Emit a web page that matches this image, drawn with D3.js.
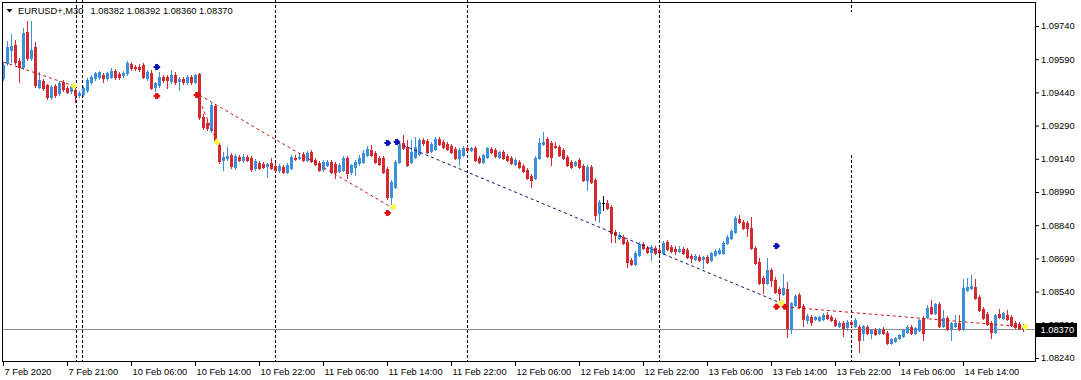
<!DOCTYPE html>
<html><head><meta charset="utf-8">
<script src="https://cdn.jsdelivr.net/npm/d3@7"></script>
<style>
html,body{margin:0;padding:0;background:#fff;}
svg{display:block;font-family:"Liberation Sans",Arial,sans-serif;}
</style></head><body>
<svg id="c" width="1081" height="380"></svg>
<script>
const symbol = "EURUSD+,M30";
const headerValues = ["1.08382", "1.08392", "1.08360", "1.08370"];

const openP = [
1.09505,1.09573,1.09632,1.09654,1.09582,1.09555,1.09713,1.09595,1.09645,1.09464,
1.09492,1.09474,1.09419,1.09469,1.09437,1.09487,1.09460,1.09446,1.09451,1.09428,
1.09433,1.09451,1.09487,1.09505,1.09510,1.09519,1.09505,1.09510,1.09537,1.09523,
1.09519,1.09528,1.09568,1.09555,1.09555,1.09564,1.09505,1.09528,1.09464,1.09474,
1.09510,1.09510,1.09492,1.09519,1.09492,1.09501,1.09487,1.09510,1.09487,1.09523,
1.09329,1.09302,1.09270,1.09379,1.09202,1.09135,1.09144,1.09157,1.09103,1.09148,
1.09135,1.09148,1.09144,1.09099,1.09121,1.09117,1.09108,1.09121,1.09108,1.09089,
1.09103,1.09080,1.09099,1.09144,1.09144,1.09162,1.09135,1.09171,1.09135,1.09121,
1.09094,1.09112,1.09126,1.09117,1.09085,1.09089,1.09144,1.09080,1.09103,1.09121,
1.09126,1.09157,1.09180,1.09166,1.09144,1.09144,1.09094,1.08968,1.09013,1.09126,
1.09211,1.09193,1.09126,1.09148,1.09162,1.09225,1.09221,1.09175,1.09184,1.09230,
1.09216,1.09207,1.09198,1.09184,1.09144,1.09157,1.09189,1.09180,1.09189,1.09144,
1.09126,1.09148,1.09184,1.09180,1.09148,1.09171,1.09153,1.09144,1.09117,1.09126,
1.09108,1.09089,1.09062,1.09053,1.09144,1.09207,1.09230,1.09211,1.09198,1.09193,
1.09180,1.09148,1.09126,1.09112,1.09135,1.09108,1.09044,1.09103,1.09044,1.08895,
1.08940,1.08940,1.08922,1.08809,1.08782,1.08787,1.08764,1.08683,1.08665,1.08705,
1.08755,1.08737,1.08719,1.08737,1.08728,1.08715,1.08764,1.08742,1.08733,1.08724,
1.08733,1.08728,1.08701,1.08687,1.08696,1.08687,1.08696,1.08683,1.08705,1.08715,
1.08715,1.08760,1.08782,1.08809,1.08868,1.08855,1.08850,1.08827,1.08737,1.08674,
1.08602,1.08579,1.08638,1.08593,1.08552,1.08529,1.08552,1.08371,1.08480,1.08525,
1.08475,1.08412,1.08425,1.08416,1.08412,1.08416,1.08434,1.08425,1.08412,1.08385,
1.08398,1.08380,1.08403,1.08385,1.08380,1.08353,1.08380,1.08353,1.08367,1.08353,
1.08371,1.08353,1.08308,1.08317,1.08330,1.08340,1.08358,1.08380,1.08353,1.08367,
1.08421,1.08425,1.08471,1.08443,1.08484,1.08385,1.08421,1.08371,1.08385,1.08398,
1.08371,1.08547,1.08556,1.08561,1.08516,1.08462,1.08439,1.08398,1.08358,1.08439,
1.08421,1.08434,1.08425,1.08398,1.08394,1.08382];

const highP = [
1.09577,1.09672,1.09704,1.09677,1.09595,1.09731,1.09763,1.09763,1.09668,1.09532,
1.09501,1.09478,1.09474,1.09478,1.09492,1.09496,1.09469,1.09478,1.09460,1.09446,
1.09469,1.09505,1.09519,1.09532,1.09537,1.09528,1.09532,1.09550,1.09546,1.09532,
1.09537,1.09582,1.09577,1.09564,1.09568,1.09573,1.09541,1.09541,1.09487,1.09532,
1.09519,1.09519,1.09541,1.09532,1.09510,1.09510,1.09519,1.09519,1.09523,1.09528,
1.09342,1.09315,1.09392,1.09388,1.09211,1.09171,1.09193,1.09166,1.09162,1.09157,
1.09162,1.09157,1.09153,1.09139,1.09130,1.09126,1.09121,1.09144,1.09121,1.09117,
1.09112,1.09121,1.09157,1.09157,1.09162,1.09171,1.09175,1.09180,1.09144,1.09130,
1.09135,1.09135,1.09135,1.09126,1.09121,1.09153,1.09153,1.09117,1.09135,1.09157,
1.09180,1.09198,1.09202,1.09175,1.09153,1.09153,1.09103,1.09044,1.09135,1.09211,
1.09248,1.09225,1.09225,1.09239,1.09234,1.09234,1.09230,1.09216,1.09239,1.09239,
1.09225,1.09216,1.09207,1.09193,1.09189,1.09198,1.09198,1.09193,1.09198,1.09153,
1.09162,1.09193,1.09193,1.09189,1.09175,1.09180,1.09162,1.09153,1.09144,1.09135,
1.09117,1.09099,1.09071,1.09153,1.09234,1.09261,1.09239,1.09221,1.09216,1.09202,
1.09189,1.09157,1.09135,1.09130,1.09144,1.09117,1.09112,1.09112,1.09053,1.08954,
1.08972,1.08954,1.08931,1.08818,1.08809,1.08796,1.08773,1.08692,1.08724,1.08764,
1.08764,1.08746,1.08751,1.08746,1.08742,1.08769,1.08773,1.08751,1.08746,1.08746,
1.08742,1.08737,1.08710,1.08710,1.08705,1.08701,1.08705,1.08719,1.08733,1.08737,
1.08769,1.08796,1.08823,1.08882,1.08886,1.08864,1.08859,1.08877,1.08746,1.08692,
1.08611,1.08692,1.08647,1.08606,1.08561,1.08620,1.08583,1.08493,1.08529,1.08534,
1.08484,1.08439,1.08434,1.08430,1.08430,1.08443,1.08448,1.08434,1.08421,1.08407,
1.08407,1.08412,1.08412,1.08421,1.08389,1.08389,1.08389,1.08371,1.08376,1.08376,
1.08380,1.08362,1.08330,1.08335,1.08349,1.08371,1.08389,1.08389,1.08380,1.08416,
1.08430,1.08480,1.08502,1.08489,1.08493,1.08457,1.08430,1.08403,1.08434,1.08434,
1.08597,1.08602,1.08615,1.08597,1.08525,1.08471,1.08448,1.08407,1.08439,1.08462,
1.08448,1.08457,1.08434,1.08407,1.08403,1.08392];

const lowP = [
1.09496,1.09564,1.09577,1.09568,1.09487,1.09546,1.09586,1.09586,1.09464,1.09460,
1.09451,1.09410,1.09410,1.09419,1.09428,1.09446,1.09437,1.09437,1.09397,1.09419,
1.09424,1.09442,1.09478,1.09496,1.09501,1.09487,1.09496,1.09505,1.09501,1.09501,
1.09510,1.09519,1.09541,1.09541,1.09537,1.09505,1.09496,1.09455,1.09446,1.09464,
1.09487,1.09460,1.09483,1.09478,1.09451,1.09478,1.09478,1.09478,1.09483,1.09320,
1.09275,1.09270,1.09261,1.09211,1.09121,1.09089,1.09135,1.09099,1.09094,1.09130,
1.09126,1.09130,1.09085,1.09089,1.09094,1.09099,1.09058,1.09094,1.09085,1.09080,
1.09076,1.09076,1.09094,1.09135,1.09139,1.09130,1.09130,1.09126,1.09112,1.09085,
1.09085,1.09108,1.09076,1.09053,1.09080,1.09085,1.09053,1.09071,1.09067,1.09112,
1.09121,1.09153,1.09153,1.09121,1.09112,1.09076,1.08958,1.08922,1.09008,1.09121,
1.09184,1.09108,1.09121,1.09144,1.09157,1.09202,1.09166,1.09171,1.09180,1.09202,
1.09189,1.09180,1.09166,1.09139,1.09112,1.09153,1.09175,1.09175,1.09130,1.09121,
1.09121,1.09144,1.09166,1.09148,1.09144,1.09139,1.09130,1.09117,1.09112,1.09099,
1.09080,1.09049,1.09013,1.09049,1.09139,1.09202,1.09148,1.09112,1.09189,1.09153,
1.09139,1.09108,1.09099,1.09108,1.09099,1.09040,1.08999,1.09031,1.08864,1.08855,
1.08909,1.08913,1.08764,1.08764,1.08778,1.08755,1.08651,1.08660,1.08660,1.08701,
1.08733,1.08715,1.08683,1.08710,1.08710,1.08710,1.08728,1.08719,1.08710,1.08719,
1.08710,1.08692,1.08674,1.08683,1.08678,1.08647,1.08669,1.08678,1.08701,1.08710,
1.08710,1.08755,1.08778,1.08805,1.08850,1.08823,1.08791,1.08733,1.08665,1.08574,
1.08534,1.08574,1.08565,1.08534,1.08502,1.08525,1.08335,1.08353,1.08475,1.08466,
1.08385,1.08398,1.08389,1.08412,1.08407,1.08412,1.08416,1.08407,1.08385,1.08380,
1.08340,1.08367,1.08385,1.08380,1.08267,1.08321,1.08349,1.08330,1.08344,1.08349,
1.08349,1.08303,1.08303,1.08312,1.08326,1.08335,1.08353,1.08349,1.08349,1.08362,
1.08321,1.08421,1.08439,1.08439,1.08380,1.08380,1.08367,1.08321,1.08380,1.08367,
1.08367,1.08543,1.08552,1.08507,1.08452,1.08416,1.08389,1.08330,1.08353,1.08421,
1.08416,1.08412,1.08385,1.08376,1.08371,1.08360];

const closeP = [
1.09564,1.09645,1.09650,1.09577,1.09555,1.09708,1.09595,1.09632,1.09474,1.09496,
1.09460,1.09419,1.09464,1.09428,1.09483,1.09455,1.09442,1.09469,1.09428,1.09437,
1.09460,1.09496,1.09510,1.09528,1.09532,1.09505,1.09528,1.09537,1.09510,1.09510,
1.09528,1.09573,1.09550,1.09550,1.09546,1.09510,1.09532,1.09460,1.09483,1.09510,
1.09496,1.09496,1.09519,1.09487,1.09501,1.09487,1.09510,1.09487,1.09519,1.09329,
1.09284,1.09279,1.09383,1.09221,1.09130,1.09148,1.09153,1.09108,1.09153,1.09135,
1.09148,1.09135,1.09094,1.09130,1.09099,1.09103,1.09117,1.09099,1.09089,1.09108,
1.09080,1.09112,1.09148,1.09139,1.09148,1.09135,1.09166,1.09130,1.09117,1.09089,
1.09126,1.09126,1.09080,1.09080,1.09112,1.09144,1.09076,1.09112,1.09126,1.09144,
1.09166,1.09184,1.09157,1.09126,1.09117,1.09080,1.08968,1.09035,1.09126,1.09202,
1.09189,1.09112,1.09171,1.09193,1.09225,1.09211,1.09171,1.09207,1.09230,1.09207,
1.09193,1.09184,1.09171,1.09144,1.09180,1.09189,1.09180,1.09189,1.09135,1.09126,
1.09157,1.09189,1.09171,1.09153,1.09171,1.09144,1.09135,1.09121,1.09135,1.09103,
1.09085,1.09053,1.09044,1.09144,1.09211,1.09216,1.09153,1.09148,1.09193,1.09157,
1.09144,1.09112,1.09103,1.09126,1.09103,1.09044,1.09103,1.09035,1.08886,1.08945,
1.08940,1.08918,1.08805,1.08796,1.08796,1.08760,1.08674,1.08665,1.08715,1.08755,
1.08737,1.08719,1.08742,1.08715,1.08719,1.08760,1.08733,1.08724,1.08724,1.08733,
1.08715,1.08696,1.08692,1.08701,1.08683,1.08696,1.08674,1.08715,1.08724,1.08728,
1.08760,1.08787,1.08814,1.08873,1.08855,1.08827,1.08827,1.08737,1.08669,1.08579,
1.08579,1.08638,1.08593,1.08538,1.08534,1.08556,1.08376,1.08489,1.08520,1.08471,
1.08416,1.08430,1.08403,1.08425,1.08425,1.08434,1.08421,1.08412,1.08389,1.08398,
1.08376,1.08403,1.08394,1.08412,1.08321,1.08385,1.08353,1.08367,1.08349,1.08371,
1.08353,1.08308,1.08326,1.08330,1.08344,1.08367,1.08380,1.08353,1.08376,1.08412,
1.08353,1.08466,1.08443,1.08484,1.08385,1.08421,1.08371,1.08398,1.08398,1.08371,
1.08556,1.08561,1.08565,1.08511,1.08457,1.08421,1.08394,1.08358,1.08434,1.08425,
1.08443,1.08416,1.08389,1.08380,1.08376,1.08370];

const timeLabels = ["7 Feb 2020","7 Feb 21:00","10 Feb 06:00","10 Feb 14:00","10 Feb 22:00","11 Feb 06:00","11 Feb 14:00","11 Feb 22:00","12 Feb 06:00","12 Feb 14:00","12 Feb 22:00","13 Feb 06:00","13 Feb 14:00","13 Feb 22:00","14 Feb 06:00","14 Feb 14:00"];
const timeLabelBars = [0,16,32,48,64,80,96,112,128,144,160,176,192,208,224,240];
const priceTicks = [1.09740,1.09590,1.09440,1.09290,1.09140,1.08990,1.08840,1.08690,1.08540,1.08390,1.08240];
const currentPrice = 1.08370;

const separatorBars = [18.25, 20, 68, 116, 164, 212];
const brokenSeparatorBar = 212;
const brokenSeparatorGap = [1.09803, 1.09157];

const buyArrowBars = [38.4, 96.1, 98.4, 193.3];
const buyArrowPrices = [1.09555, 1.09211, 1.09216, 1.08746];
const sellArrowBars = [38.4, 48.4, 96.1, 193.3, 195.4];
const sellArrowPrices = [1.09424, 1.09428, 1.08895, 1.08471, 1.08471];
const pivotBars = [17.6, 53.4, 97.4, 194.5, 255.4];
const pivotPrices = [1.09469, 1.09216, 1.08922, 1.08489, 1.08380];

const redTrendLines = [
  [0, 1.09577, 17.6, 1.09469],
  [48.4, 1.09428, 53.4, 1.09216],
  [49, 1.09428, 96.9, 1.08922],
  [195.4, 1.08471, 255.4, 1.08380]
];
const navyTrendLines = [
  [98.6, 1.09211, 193.7, 1.08493]
];

(function () {
const pLeft = 2.5, pRight = 1035.5, pTop = 2.5, pBottom = 361.5;
const svg = d3.select("#c");
const x = d3.scaleLinear().domain([0, 255]).range([3.5, 1023.5]);
const y = d3.scaleLinear().domain([1.08240, 1.09740]).range([358, 26]);
const BULL = "#3b8fdb", BEAR = "#d42a2f";

// price line
const cpY = Math.round(y(currentPrice));
svg.append("line").attr("x1", pLeft).attr("x2", pRight)
  .attr("y1", cpY + 0.5).attr("y2", cpY + 0.5)
  .attr("stroke", "#8c8c8c").attr("stroke-width", 1);

// separators
const sepG = svg.append("g").attr("stroke", "#000").attr("stroke-width", 1).attr("stroke-dasharray", "3,2");
separatorBars.forEach(b => {
  const xx = Math.round(x(b)) - 0.5;
  if (b === brokenSeparatorBar) {
    sepG.append("line").attr("x1", xx).attr("x2", xx).attr("y1", 0).attr("y2", y(brokenSeparatorGap[0]));
    sepG.append("line").attr("x1", xx).attr("x2", xx).attr("y1", y(brokenSeparatorGap[1])).attr("y2", pBottom);
  } else {
    sepG.append("line").attr("x1", xx).attr("x2", xx).attr("y1", 0).attr("y2", pBottom);
  }
});

// candles
const idx = d3.range(openP.length);
const cg = svg.append("g").attr("shape-rendering", "crispEdges");
const colorOf = i => closeP[i] > openP[i] ? BULL : (closeP[i] < openP[i] ? BEAR : "#000");
cg.selectAll("line.w").data(idx).join("line").attr("class", "w")
  .attr("x1", i => x(i)).attr("x2", i => x(i))
  .attr("y1", i => Math.round(y(highP[i])))
  .attr("y2", i => Math.round(y(lowP[i])) + 1)
  .attr("stroke", colorOf).attr("stroke-width", 1);
cg.selectAll("rect.b").data(idx).join("rect").attr("class", "b")
  .attr("x", i => x(i) - 1.5).attr("width", 3)
  .attr("y", i => Math.round(y(Math.max(openP[i], closeP[i]))))
  .attr("height", i => Math.round(y(Math.min(openP[i], closeP[i]))) - Math.round(y(Math.max(openP[i], closeP[i]))) + 1)
  .attr("fill", colorOf);

// trend lines
const tl = (arr, color) => svg.append("g").selectAll("line").data(arr).join("line")
  .attr("x1", d => x(d[0])).attr("y1", d => y(d[1]))
  .attr("x2", d => x(d[2])).attr("y2", d => y(d[3]))
  .attr("stroke", color).attr("stroke-width", 1).attr("stroke-dasharray", "3,3");
tl(redTrendLines, "#c01818");
tl(navyTrendLines, "#10106e");

// arrows
const arrowPath = "M-3.5,-1 H0 V-3.5 L3.5,0 L0,3.5 V1 H-3.5 Z M-2,-3 H0 V3 H-2 Z";
svg.append("g").selectAll("path").data(d3.range(buyArrowBars.length)).join("path")
  .attr("d", arrowPath)
  .attr("transform", i => `translate(${x(buyArrowBars[i])},${y(buyArrowPrices[i])})`)
  .attr("fill", "#0a14b4");
svg.append("g").selectAll("path").data(d3.range(sellArrowBars.length)).join("path")
  .attr("d", arrowPath)
  .attr("transform", i => `translate(${x(sellArrowBars[i])},${y(sellArrowPrices[i])})`)
  .attr("fill", "#e01010");
svg.append("g").selectAll("path").data(d3.range(pivotBars.length)).join("path")
  .attr("d", "M0,-3.5 L3,0 L0,3.5 L-3,0 Z")
  .attr("transform", i => `translate(${x(pivotBars[i])},${y(pivotPrices[i])})`)
  .attr("fill", "#ffff30").attr("stroke", "#f4f48a").attr("stroke-width", 1);

// frame
svg.append("rect").attr("x", pLeft).attr("y", pTop).attr("width", pRight - pLeft).attr("height", pBottom - pTop)
  .attr("fill", "none").attr("stroke", "#000").attr("stroke-width", 1);

// x axis
const xAxis = d3.axisBottom(x).tickValues(timeLabelBars).tickFormat((d, i) => timeLabels[i])
  .tickSize(5).tickSizeOuter(0).tickPadding(2).offset(0);
const gx = svg.append("g").attr("transform", `translate(0,${pBottom - 0.5})`).call(xAxis);
gx.select(".domain").remove();
gx.attr("font-family", "'Liberation Sans', Arial, sans-serif").attr("font-size", "9.3px");
gx.selectAll(".tick line").attr("stroke", "#000").attr("shape-rendering", "crispEdges");
gx.selectAll(".tick text").attr("text-anchor", "start").attr("dx", 1).attr("fill", "#000");

// y axis
const yAxis = d3.axisRight(y).tickValues(priceTicks).tickFormat(d3.format(".5f"))
  .tickSize(4).tickSizeOuter(0).tickPadding(2);
const gy = svg.append("g").attr("transform", `translate(${pRight - 0.5},0)`).call(yAxis);
gy.select(".domain").remove();
gy.attr("font-family", "'Liberation Sans', Arial, sans-serif").attr("font-size", "9.3px");
gy.selectAll(".tick line").attr("stroke", "#000");
gy.selectAll(".tick text").attr("fill", "#000");

// current price box
svg.append("rect").attr("x", pRight + 0.5).attr("y", cpY - 6).attr("width", 41).attr("height", 14).attr("fill", "#000");
svg.append("text").attr("x", pRight + 5).attr("y", cpY + 1).attr("dy", "0.32em")
  .attr("font-size", "9.3px").attr("fill", "#fff").text(d3.format(".5f")(currentPrice));

// header
svg.append("path").attr("d", "M6.5,9 L12.5,9 L9.5,12.5 Z").attr("fill", "#000");
svg.append("text").attr("x", 18).attr("y", 14).attr("font-size", "9.3px").attr("fill", "#000").text(symbol);
svg.append("text").attr("x", 90.5).attr("y", 14).attr("font-size", "9.3px").attr("fill", "#000").text(headerValues.join(" "));
})();
</script>
</body></html>
